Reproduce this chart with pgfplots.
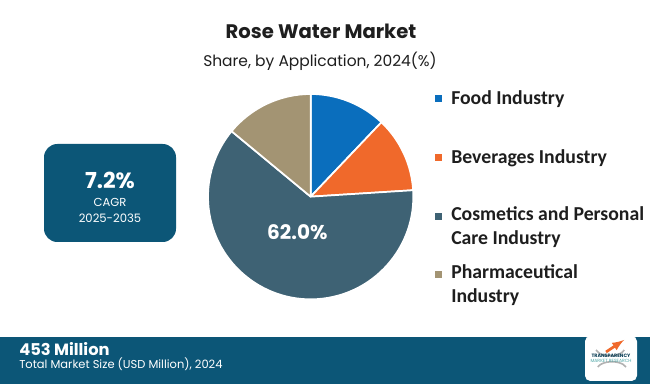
\documentclass[border=0pt]{standalone}
\usepackage{pgfplots}
\pgfplotsset{compat=1.18}
\usepackage{pgfplotstable}
\usepackage{fontspec}
\setmainfont{Poppins}
\newfontfamily\legfont{Carlito}
\definecolor{cFood}{HTML}{0A6EBD}
\definecolor{cBev}{HTML}{F0692B}
\definecolor{cCos}{HTML}{3E6274}
\definecolor{cPha}{HTML}{A39473}
\definecolor{cBand}{HTML}{0C5677}
\definecolor{cTxt}{HTML}{1E1E1E}
\pgfplotstableread{
label value
Food 12.1
Beverages 11.9
Cosmetics 62.0
Pharma 14.0
}\piedata
\newcommand{\pieslice}[2]{%
  \pgfplotstablegetelem{#1}{value}\of\piedata
  \pgfmathsetmacro{\aend}{\acur-3.6*\pgfplotsretval}%
  \edef\temp{\noexpand\filldraw[fill=#2,draw=white,line width=1.3pt,line join=round]
    (axis cs:0,0) -- (axis cs:{cos(\acur)},{sin(\acur)}) arc[start angle=\acur, end angle=\aend, radius=77pt] -- cycle;}%
  \temp
  \let\acur\aend
}
\begin{document}
\begin{tikzpicture}
\begin{scope}[x=0.75pt,y=-0.75pt]
  \fill[white] (0,0) rectangle (650,384);
  % title
  \node[font=\bfseries\fontsize{14.7}{16}\selectfont, text=cTxt] at (321,31) {Rose Water Market};
  \node[font=\fontsize{11.6}{13}\selectfont, text=cTxt] at (320,61) {Share, by Application, 2024(\%)};
  % CAGR box
  \fill[cBand, rounded corners=10pt] (44,144) rectangle (176,242);
  \node[font=\bfseries\fontsize{16.5}{18}\selectfont, text=white] at (110,180) {7.2\%};
  \node[font=\fontsize{8.7}{10}\selectfont, text=white] at (110,202) {CAGR};
  \node[font=\fontsize{8.7}{10}\selectfont, text=white] at (110,218) {2025-2035};
  % legend
  \fill[cFood] (435,95) rectangle (442,102);
  \node[anchor=west, font=\legfont\bfseries\fontsize{14.8}{18}\selectfont, text=cTxt, inner sep=0pt] at (451,99) {Food Industry};
  \fill[cBev] (435,154) rectangle (442,161);
  \node[anchor=west, font=\legfont\bfseries\fontsize{14.8}{18}\selectfont, text=cTxt, inner sep=0pt] at (451,158) {Beverages Industry};
  \fill[cCos] (435,213) rectangle (442,220);
  \node[anchor=north west, font=\legfont\bfseries\fontsize{14.8}{18}\selectfont, text=cTxt, inner sep=0pt, align=left] at (451,206) {Cosmetics and Personal\\Care Industry};
  \fill[cPha] (435,271) rectangle (442,278);
  \node[anchor=north west, font=\legfont\bfseries\fontsize{14.8}{18}\selectfont, text=cTxt, inner sep=0pt, align=left] at (451,264) {Pharmaceutical\\Industry};
  % footer band
  \fill[cBand] (0,337) rectangle (650,384);
  \node[anchor=west, font=\bfseries\fontsize{12.2}{14}\selectfont, text=white, inner sep=0pt] at (19,349) {453 Million};
  \node[anchor=west, font=\fontsize{8.6}{10}\selectfont, text=white, inner sep=0pt] at (19,364) {Total Market Size (USD Million), 2024};
  % logo
  \fill[white, rounded corners=4pt] (585,336) rectangle (637,381);
  \draw[gray!60, line width=1.2pt] (596,350) arc[start angle=160, end angle=20, x radius=15, y radius=9];
  \draw[gray!60, line width=1.2pt] (626,367) arc[start angle=-20, end angle=-160, x radius=15, y radius=8];
  \draw[cBev, line width=2pt, -latex] (606,352) -- (624,340);
  \node[font=\bfseries\fontsize{3.6}{4}\selectfont, text=cBand!70!black, inner sep=0pt] at (611,356) {TRANSPARENCY};
  \node[font=\fontsize{3.4}{4}\selectfont, text=teal!70, inner sep=0pt] at (611,361) {MARKET RESEARCH};
\end{scope}
\begin{axis}[at={(233pt,-147.5pt)}, anchor=origin, hide axis, x=77pt, y=77pt,
  xmin=-1.05, xmax=1.05, ymin=-1.05, ymax=1.05, clip=false]
  \def\acur{90}
  \pieslice{0}{cFood}
  \pieslice{1}{cBev}
  \pieslice{2}{cCos}
  \pieslice{3}{cPha}
  \node[font=\bfseries\fontsize{15}{17}\selectfont, text=white] at (axis cs:-0.13,-0.35) {62.0\%};
\end{axis}
\end{tikzpicture}
\end{document}
